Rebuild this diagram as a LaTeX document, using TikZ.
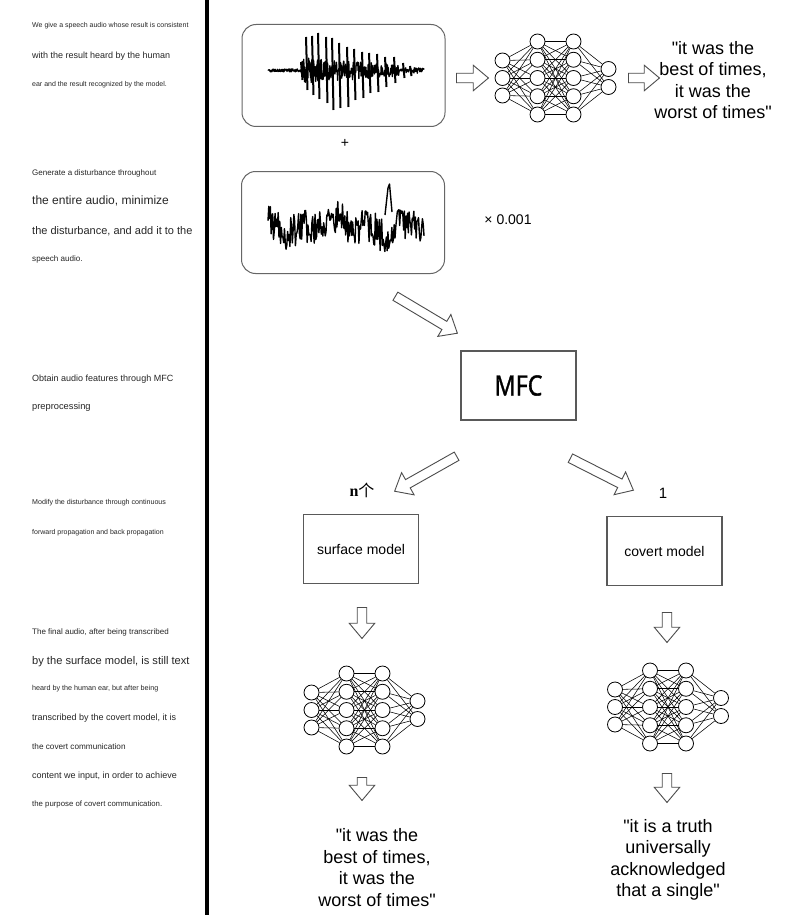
\documentclass[tikz,border=0pt]{standalone}
\usepackage{fontspec}
\setmainfont{Liberation Sans}
\newfontfamily\quotefont{Liberation Sans}
\newfontfamily\cjkfont{Noto Sans CJK SC}
\newfontfamily\serfont{Liberation Serif}
\newfontfamily\mfcfont{Noto Sans}[FakeBold=1.3]
\usetikzlibrary{shapes.arrows, calc}
\tikzset{neuron/.style={circle, draw, line width=0.8pt, minimum size=15pt, inner sep=0pt}}
\tikzset{synapse/.style={line width=0.55pt}}
\tikzset{wave/.style={line width=1.1pt, line join=round}}
\tikzset{wavebox/.style={draw=black!60, line width=1pt, rounded corners=14pt, minimum width=203pt, minimum height=102pt}}
\tikzset{modelbox/.style={draw=black!65, line width=1.1pt, minimum width=115pt, minimum height=69pt, font=\fontsize{14}{16}\selectfont}}
\tikzset{blockarrow/.style={single arrow, draw=black!70, line width=0.9pt, inner xsep=0pt, inner ysep=4.3pt, single arrow head extend=8pt, single arrow tip angle=80, minimum width=25pt, anchor=tail}}
\tikzset{note/.style={anchor=west, inner sep=0pt, text=black!85}}
\tikzset{quote/.style={align=center, inner sep=0pt, font=\quotefont\fontsize{18}{21.5}\selectfont}}
\newcommand\blockarrow[3]{%
  \path let \p1=(#2), \p2=(#3), \n1={atan2(\y2-\y1,\x2-\x1)}, \n2={veclen(\x2-\x1,\y2-\y1)} in
    node[blockarrow, minimum height=\n2, rotate=\n1] (#1) at (\p1) {};}
\newcommand\neuralnet[2]{%
  \begin{scope}[shift={(#2)}]
    \foreach \i/\y in {1/-17.5, 2/0, 3/17.5}
      \node[neuron] (#1-a\i) at (-53,\y) {};
    \foreach \i/\y in {1/-36.5, 2/-18.25, 3/0, 4/18.25, 5/36.5} {
      \node[neuron] (#1-b\i) at (-18,\y) {};
      \node[neuron] (#1-c\i) at (18,\y) {};
    }
    \foreach \i/\y in {1/-9, 2/9}
      \node[neuron] (#1-d\i) at (53,\y) {};
    \foreach \j in {1,...,5} {
      \foreach \i in {1,2,3} \draw[synapse] (#1-a\i) -- (#1-b\j);
      \foreach \i in {1,...,5} \draw[synapse] (#1-b\i) -- (#1-c\j);
      \foreach \i in {1,2} \draw[synapse] (#1-c\j) -- (#1-d\i);
    }
  \end{scope}}

\begin{document}
\begin{tikzpicture}[x=1pt, y=-1pt]
            \useasboundingbox (0,0) rectangle (802,915);
            \fill[white] (0,0) rectangle (802,915);
            \coordinate (bartop) at (207,0);
            \coordinate (barbot) at (207,915);
            \draw[line width=3.5pt] (bartop) -- (barbot);

            \node[note, font=\fontsize{7}{8}\selectfont] (note1) at (32,26) {We give a speech audio whose result is consistent};
            \node[note, font=\fontsize{9}{10}\selectfont] (note2) at (32,56) {with the result heard by the human};
            \node[note, font=\fontsize{7}{8}\selectfont] (note3) at (32,85) {ear and the result recognized by the model.};
            \node[note, font=\fontsize{8}{9}\selectfont] (note4) at (32,173) {Generate a disturbance throughout};
            \node[note, font=\fontsize{12}{14}\selectfont] (note5) at (32,201) {the entire audio, minimize};
            \node[note, font=\fontsize{11}{13}\selectfont] (note6) at (32,231) {the disturbance, and add it to the};
            \node[note, font=\fontsize{8.1}{9}\selectfont] (note7) at (32,259) {speech audio.};
            \node[note, font=\fontsize{9}{10}\selectfont] (note8) at (32,379) {Obtain audio features through MFC};
            \node[note, font=\fontsize{9.3}{10}\selectfont] (note9) at (32,407) {preprocessing};
            \node[note, font=\fontsize{7.1}{8}\selectfont] (note10) at (32,503) {Modify the disturbance through continuous};
            \node[note, font=\fontsize{7}{8}\selectfont] (note11) at (32,533) {forward propagation and back propagation};
            \node[note, font=\fontsize{8}{9}\selectfont] (note12) at (32,632) {The final audio, after being transcribed};
            \node[note, font=\fontsize{11.1}{13}\selectfont] (note13) at (32,662) {by the surface model, is still text};
            \node[note, font=\fontsize{7.2}{8}\selectfont] (note14) at (32,689) {heard by the human ear, but after being};
            \node[note, font=\fontsize{9}{10}\selectfont] (note15) at (32,718) {transcribed by the covert model, it is};
            \node[note, font=\fontsize{8.2}{10}\selectfont] (note16) at (32,747) {the covert communication};
            \node[note, font=\fontsize{9}{10}\selectfont] (note17) at (32,776) {content we input, in order to achieve};
            \node[note, font=\fontsize{7.8}{9}\selectfont] (note18) at (32,804) {the purpose of covert communication.};

            \node[wavebox] (speech) at (343.5,75.5) {};
            \pgfmathsetseed{11}
            \draw[wave, line width=1.3pt] plot[domain=268:424, samples=420] (\x, {70.5 + (\x<302 ? 1.6 : (\x<400 ? 13-0.075*(\x-302) : 2.8))*rand});
            \foreach \x/\t/\b in {301/62/80, 306/37/90, 312/36/95, 318/33/99, 326/37/103, 332/38/110, 339/43/108, 347/47/107, 354/49/100, 362/52/98, 369/53/93, 377/54/92, 385/57/87, 394/57/83, 403/63/78, 410/66/76}
              \draw[wave, line width=2pt] (\x,\t) -- (\x+1.5,\b);
            \neuralnet{net1}{555.5,78}
            \node[quote] (quote1) at (713,80) {"it was the\\best of times,\\it was the\\worst of times"};

            \node[font=\fontsize{14}{16}\selectfont] (plus) at (345,143) {+};
            \node[wavebox] (noise) at (343,222.5) {};
            \pgfmathsetseed{5}
            \draw[wave, line width=1.4pt] plot[domain=268:424, samples=200] (\x, {226 + 5*sin(\x*4) - 4*sin(\x*11) + 17*rand});
            \draw[wave, line width=1.4pt] (385,215) -- (388,188) -- (389.5,184) -- (392,212);
            \node[font=\fontsize{14}{16}\selectfont] (scale) at (508,220) {× 0.001};

            \node[modelbox, font=\mfcfont\fontsize{28}{30}\selectfont] (mfc) at (518.5,385.5) {\scalebox{0.83}[1]{MFC}};
            \node[font=\fontsize{16}{18}\selectfont] (count) at (362,490) {{\serfont\bfseries n}{\cjkfont 个}};
            \node[font=\fontsize{15}{17}\selectfont] (one) at (663,493) {1};
            \node[modelbox] (surface) at (361,549) {surface model};
            \node[modelbox] (covert) at (664.5,551) {covert model};

            \neuralnet{net2}{364.5,710}
            \neuralnet{net3}{668,707}
            \node[quote] (quote2) at (377,867.5) {"it was the\\best of times,\\it was the\\worst of times"};
            \node[quote] (quote3) at (668,860) {"it is a truth\\universally\\acknowledged\\that a single"};

            \coordinate (a1s) at (456,78);   \coordinate (a1e) at (488,78);
            \coordinate (a2s) at (628,78);   \coordinate (a2e) at (659,78);
            \coordinate (a3s) at (395,296);  \coordinate (a3e) at (457,333);
            \coordinate (a4s) at (457,456);  \coordinate (a4e) at (395,491);
            \coordinate (a5s) at (570,458);  \coordinate (a5e) at (633,490);
            \coordinate (a6s) at (362,607);  \coordinate (a6e) at (362,638);
            \coordinate (a7s) at (667,612);  \coordinate (a7e) at (667,642);
            \coordinate (a8s) at (362,777);  \coordinate (a8e) at (362,800);
            \coordinate (a9s) at (667,773);  \coordinate (a9e) at (667,802);
            \blockarrow{arr1}{a1s}{a1e}
            \blockarrow{arr2}{a2s}{a2e}
            \blockarrow{arr3}{a3s}{a3e}
            \blockarrow{arr4}{a4s}{a4e}
            \blockarrow{arr5}{a5s}{a5e}
            \blockarrow{arr6}{a6s}{a6e}
            \blockarrow{arr7}{a7s}{a7e}
            \blockarrow{arr8}{a8s}{a8e}
            \blockarrow{arr9}{a9s}{a9e}
        \end{tikzpicture}
\end{document}
